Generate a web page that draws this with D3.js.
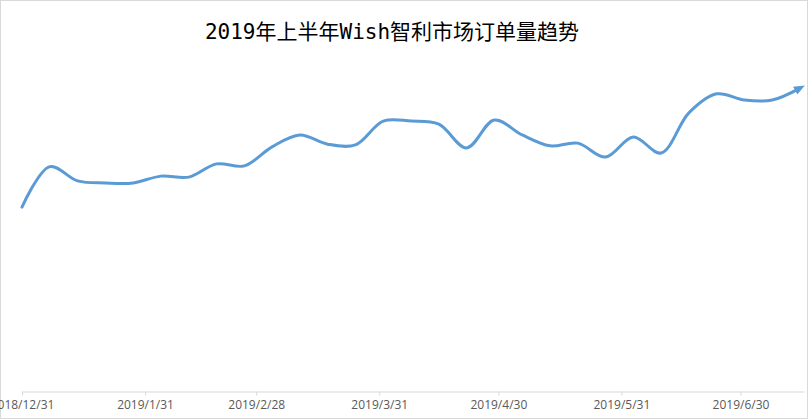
<!DOCTYPE html>
<html>
<head>
<meta charset="utf-8">
<script src="https://cdn.jsdelivr.net/npm/d3@7"></script>
<style>
  html, body { margin: 0; padding: 0; background: #fff; }
  svg { display: block; }
</style>
</head>
<body>
<svg id="chart" width="810" height="420"></svg>
<script>
const titleText = "2019年上半年Wish智利市场订单量趋势";
const weeks = ["2018-12-31","2019-01-07","2019-01-14","2019-01-21","2019-01-28","2019-02-04","2019-02-11","2019-02-18","2019-02-25","2019-03-04","2019-03-11","2019-03-18","2019-03-25","2019-04-01","2019-04-08","2019-04-15","2019-04-22","2019-04-29","2019-05-06","2019-05-13","2019-05-20","2019-05-27","2019-06-03","2019-06-10","2019-06-17","2019-06-24","2019-07-01","2019-07-08","2019-07-15"];
const orders = [54.1,66.0,61.8,61.2,61.2,63.2,62.9,66.8,66.2,71.8,75.3,72.6,72.4,79.4,79.4,78.5,71.5,79.7,75.3,72.1,72.9,68.8,74.7,70.0,81.8,87.4,85.6,85.6,89.1];
const tickDates = ["2018-12-31","2019-01-31","2019-02-28","2019-03-31","2019-04-30","2019-05-31","2019-06-30"];
const xDomain = ["2018-12-31","2019-07-16"];

const parse = d3.utcParse("%Y-%m-%d");
const fmt = d => `${d.getUTCFullYear()}/${d.getUTCMonth()+1}/${d.getUTCDate()}`;

const svg = d3.select("#chart");

// chart border
svg.append("rect")
  .attr("x", 0.5).attr("y", 0.5)
  .attr("width", 807).attr("height", 418)
  .attr("fill", "#fff").attr("stroke", "#d9d9d9").attr("stroke-width", 1);

const x = d3.scaleUtc().domain(xDomain.map(parse)).range([22, 804]);
const y = d3.scaleLinear().domain([0, 100]).range([391, 51]);

// title
svg.append("text")
  .attr("x", 392).attr("y", 39)
  .attr("text-anchor", "middle")
  .attr("font-family", "'DejaVu Sans Mono', 'Noto Sans CJK SC', monospace")
  .attr("font-size", 21)
  .attr("fill", "#000")
  .text(titleText);

// x axis
const axis = d3.axisBottom(x)
  .tickValues(tickDates.map(parse))
  .tickFormat(fmt)
  .tickSizeInner(4).tickSizeOuter(0).tickPadding(5);

const gx = svg.append("g").attr("transform", "translate(0,391.5)").call(axis);
gx.select(".domain").attr("stroke", "#d9d9d9");
gx.selectAll(".tick line").attr("stroke", "#d9d9d9");
gx.selectAll(".tick text")
  .attr("fill", "#595959")
  .attr("font-family", "'Open Sans', 'Liberation Sans', Arial, sans-serif")
  .attr("font-size", 12);

// arrow marker
const defs = svg.append("defs");
defs.append("marker")
  .attr("id", "arrow")
  .attr("markerUnits", "userSpaceOnUse")
  .attr("viewBox", "0 0 10 10")
  .attr("refX", 5).attr("refY", 5)
  .attr("markerWidth", 11).attr("markerHeight", 11)
  .attr("orient", "auto")
  .append("path")
  .attr("d", "M0,1 L10,5 L0,9 Z")
  .attr("fill", "#5b9bd5");

const data = weeks.map((w, i) => ({ date: parse(w), value: orders[i] }));

const line = d3.line()
  .x(d => x(d.date))
  .y(d => y(d.value))
  .curve(d3.curveCatmullRom.alpha(0.5));

svg.append("path")
  .datum(data)
  .attr("d", line)
  .attr("fill", "none")
  .attr("stroke", "#5b9bd5")
  .attr("stroke-width", 3)
  .attr("stroke-linecap", "round")
  .attr("stroke-linejoin", "round")
  .attr("marker-end", "url(#arrow)");
</script>
</body>
</html>
